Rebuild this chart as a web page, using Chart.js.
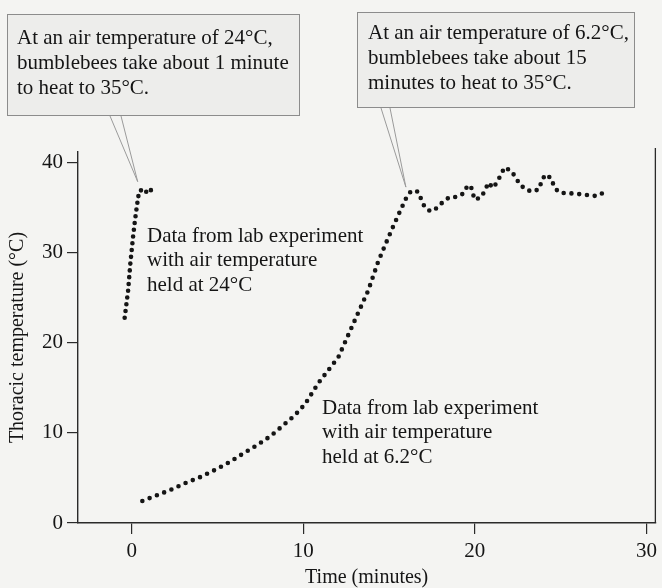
<!DOCTYPE html>
<html>
<head>
<meta charset="utf-8">
<script src="https://cdn.jsdelivr.net/npm/chart.js@4.4.0/dist/chart.umd.min.js"></script>
<style>
  html, body { margin: 0; padding: 0; background: #f4f4f2; }
  #wrap { width: 662px; height: 588px; position: relative; }
</style>
</head>
<body>
<div id="wrap"><canvas id="chart"></canvas></div>
<script>
  // Thoracic temperature of bumblebees warming up
  const time24 = [-0.41, -0.21, -0.08, 0.08, 0.19, 0.31, 0.43, 0.67, 0.95, 1.23];
  const temp24 = [22.8, 25.8, 28.8, 31.8, 33.6, 35.3, 36.8, 37.1, 36.6, 37.2];

  const time62 = [0.62, 1.47, 2.36, 3.2, 4.07, 4.9, 5.73, 6.5, 7.31, 8.09, 8.8, 9.5, 10.1, 10.9,
    12.04, 13.0, 13.78, 14.36, 14.8, 15.23, 15.61, 16.0, 16.29, 16.68, 17.07, 17.41, 17.8, 18.16,
    18.53, 18.95, 19.34, 19.53, 19.76, 19.86, 20.0, 20.38, 20.6, 20.79, 21.06, 21.27, 21.5, 21.73,
    22.12, 22.37, 22.62, 22.99, 23.39, 23.76, 23.87, 24.1, 24.45, 24.59, 24.84, 25.26, 25.75,
    26.19, 26.68, 27.1, 27.52];
  const temp62 = [2.45, 3.08, 3.75, 4.49, 5.16, 5.94, 6.79, 7.72, 8.65, 9.65, 10.8, 11.95, 13.2, 15.6,
    18.4, 22.5, 25.8, 29.0, 31.0, 32.9, 34.5, 36.1, 36.9, 36.8, 35.1, 34.6, 35.0, 35.7,
    36.2, 36.2, 36.6, 37.3, 37.5, 36.7, 35.9, 36.2, 37.0, 37.8, 37.2, 37.8, 38.6, 39.5,
    39.1, 38.4, 37.6, 37.0, 36.8, 37.1, 37.9, 38.7, 38.3, 37.5, 36.8, 36.6, 36.6,
    36.5, 36.4, 36.3, 36.7];

  const xTicks = [0, 10, 20, 30];
  const yTicks = [0, 10, 20, 30, 40];

  const SERIF = "'Liberation Serif', 'DejaVu Serif', serif";
  const INK = '#151515';

  // callout boxes (pixel layout) pointing at a spot on the data
  const callouts = [
    {
      lines: ['At an air temperature of 24°C,', 'bumblebees take about 1 minute', 'to heat to 35°C.'],
      box: [7, 14, 299, 115], textX: 17, textY: 38, tail: [110, 121], tip: { x: 0.35, y: 37.9 }
    },
    {
      lines: ['At an air temperature of 6.2°C,', 'bumblebees take about 15', 'minutes to heat to 35°C.'],
      box: [357, 12, 634, 107], textX: 368, textY: 33, tail: [381, 390], tip: { x: 15.98, y: 37.3 }
    }
  ];

  const seriesNotes = [
    { lines: ['Data from lab experiment', 'with air temperature', 'held at 24°C'], x: 147, y: 236 },
    { lines: ['Data from lab experiment', 'with air temperature', 'held at 6.2°C'], x: 322, y: 408 }
  ];

  const overlay = {
    id: 'overlay',
    afterDraw(chart) {
      const { ctx, chartArea: a, scales: { x, y } } = chart;
      ctx.save();

      // right frame line
      ctx.strokeStyle = '#2a2a2a';
      ctx.lineWidth = 1.3;
      ctx.beginPath();
      ctx.moveTo(a.right, a.top - 4);
      ctx.lineTo(a.right, a.bottom);
      ctx.stroke();

      ctx.font = '21px ' + SERIF;
      ctx.textBaseline = 'middle';
      ctx.textAlign = 'left';

      callouts.forEach(c => {
        const [l, t, r, b] = c.box;
        ctx.fillStyle = '#ededeb';
        ctx.fillRect(l, t, r - l, b - t);
        ctx.strokeStyle = '#8c8c8c';
        ctx.lineWidth = 1;
        ctx.strokeRect(l + 0.5, t + 0.5, r - l, b - t);

        const tx = x.getPixelForValue(c.tip.x);
        const ty = y.getPixelForValue(c.tip.y);
        ctx.strokeStyle = '#9a9a9a';
        ctx.beginPath();
        ctx.moveTo(c.tail[0], b + 1);
        ctx.lineTo(tx, ty);
        ctx.moveTo(c.tail[1], b + 1);
        ctx.lineTo(tx, ty);
        ctx.stroke();

        ctx.fillStyle = INK;
        c.lines.forEach((s, i) => ctx.fillText(s, c.textX, c.textY + i * 25));
      });

      seriesNotes.forEach(n => {
        ctx.fillStyle = INK;
        n.lines.forEach((s, i) => ctx.fillText(s, n.x, n.y + i * 24.5));
      });

      ctx.restore();
    }
  };

  const dotted = (gap) => ({
    showLine: true,
    pointRadius: 0,
    borderColor: '#151515',
    borderWidth: 4.6,
    borderCapStyle: 'round',
    borderJoinStyle: 'round',
    borderDash: [0, gap],
    tension: 0
  });

  new Chart(document.getElementById('chart'), {
    type: 'scatter',
    data: {
      datasets: [
        Object.assign({
          label: 'Air temperature 24°C',
          data: time24.map((t, i) => ({ x: t, y: temp24[i] }))
        }, dotted(6.8)),
        Object.assign({
          label: 'Air temperature 6.2°C',
          data: time62.map((t, i) => ({ x: t, y: temp62[i] }))
        }, dotted(7.8))
      ]
    },
    options: {
      responsive: true,
      maintainAspectRatio: false,
      animation: false,
      layout: { padding: { top: 152, right: 3, left: 0, bottom: 0 } },
      plugins: {
        legend: { display: false },
        tooltip: { enabled: false }
      },
      scales: {
        x: {
          type: 'linear',
          min: -3.13,
          max: 30.52,
          afterBuildTicks: s => { s.ticks = xTicks.map(v => ({ value: v })); },
          afterFit: s => { s.height = 65; },
          grid: { drawOnChartArea: false, drawTicks: true, tickLength: 11, color: '#2a2a2a', lineWidth: 1.2 },
          border: { display: true, color: '#2a2a2a', width: 1.4 },
          ticks: { font: { family: SERIF, size: 21 }, color: INK, padding: 5, maxRotation: 0 },
          title: {
            display: true,
            text: 'Time (minutes)',
            font: { family: SERIF, size: 20, lineHeight: 1 },
            color: INK,
            padding: { top: 0, bottom: 0 }
          }
        },
        y: {
          type: 'linear',
          min: 0,
          max: 41.2,
          afterBuildTicks: s => { s.ticks = yTicks.map(v => ({ value: v })); },
          afterFit: s => { s.width = 78; },
          grid: { drawOnChartArea: false, drawTicks: true, tickLength: 11, color: '#2a2a2a', lineWidth: 1.2 },
          border: { display: true, color: '#2a2a2a', width: 1.4 },
          ticks: { font: { family: SERIF, size: 21 }, color: INK, padding: 4 },
          title: {
            display: true,
            text: 'Thoracic temperature (°C)',
            font: { family: SERIF, size: 20, lineHeight: 1 },
            color: INK,
            padding: { top: 8, bottom: 0 }
          }
        }
      }
    },
    plugins: [overlay]
  });
</script>
</body>
</html>
